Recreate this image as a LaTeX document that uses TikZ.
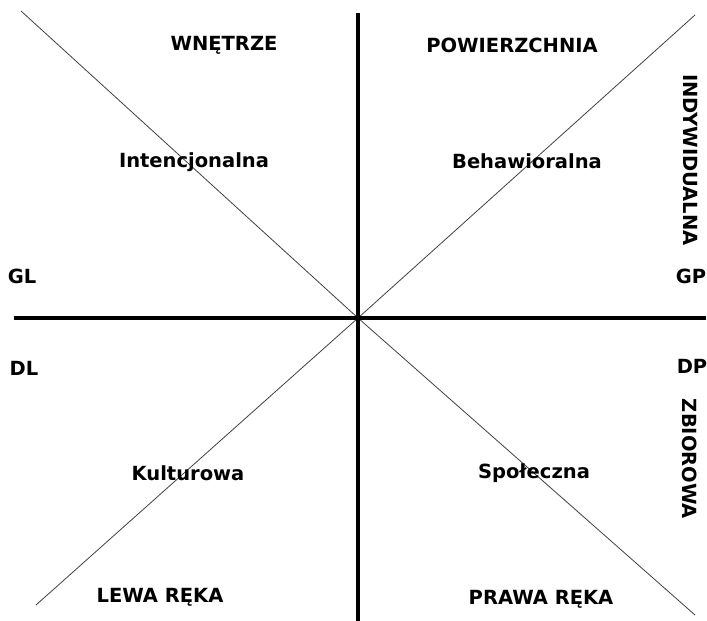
\documentclass[tikz,border=0pt]{standalone}
\usepackage{fontspec}
\setmainfont{DejaVu Sans}
\begin{document}
\begin{tikzpicture}[x=1pt,y=-1pt,
  axis/.style={line width=4pt},
  diag/.style={line width=0.8pt,black!75},
  caps/.style={font=\bfseries\fontsize{19.5}{22}\selectfont,inner sep=0pt},
  quad/.style={font=\bfseries\fontsize{19.5}{22}\selectfont,inner sep=0pt}]
  \useasboundingbox (0,0) rectangle (707,621);
  \coordinate (c) at (358,318);
  \coordinate (top) at (358,13);
  \coordinate (bot) at (358,621);
  \coordinate (lft) at (14,318);
  \coordinate (rgt) at (706,318);
  \coordinate (nw) at (21,11);
  \coordinate (se) at (695,615);
  \coordinate (ne) at (695,15);
  \coordinate (sw) at (36,605);

  % diagonals
  \draw[diag] (nw) -- (c) -- (se);
  \draw[diag] (sw) -- (c) -- (ne);
  % axes
  \draw[axis] (top) -- (bot);
  \draw[axis] (lft) -- (rgt);

  \node[caps] (wnetrze) at (224,45) {WNĘTRZE};
  \node[caps] (powierzchnia) at (512,45) {POWIERZCHNIA};
  \node[quad] (intenc) at (194,162) {Intencjonalna};
  \node[quad] (behaw) at (527,161) {Behawioralna};
  \node[quad] (kultur) at (188,473) {Kulturowa};
  \node[quad] (spolecz) at (534,473) {Społeczna};
  \node[caps] (lewa) at (160,597) {LEWA RĘKA};
  \node[caps] (prawa) at (541,599) {PRAWA RĘKA};

  \node[caps] (gl) at (22,276) {GL};
  \node[caps] (dl) at (24,368) {DL};
  \node[caps] (gp) at (691,276) {GP};
  \node[caps] (dp) at (692,366) {DP};

  \node[caps,rotate=-90] (indyw) at (690,160) {INDYWIDUALNA};
  \node[caps,rotate=-90] (zbior) at (690,459) {ZBIOROWA};
\end{tikzpicture}
\end{document}
